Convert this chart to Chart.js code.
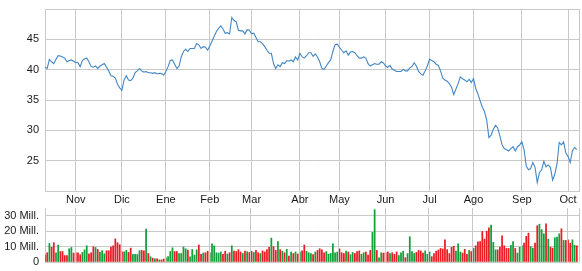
<!DOCTYPE html>
<html>
<head>
<meta charset="utf-8">
<script src="https://cdn.jsdelivr.net/npm/chart.js@4.4.1/dist/chart.umd.min.js"></script>
<style>
	html, body { margin: 0; padding: 0; background: #fff; }
	#wrap { position: relative; width: 582px; height: 271px; }
	canvas { position: absolute; left: 0; }
	#price { top: 0; }
	#volume { top: 205px; }
</style>
</head>
<body>
<div id="wrap">
	<canvas id="price" width="582" height="205"></canvas>
	<canvas id="volume" width="582" height="66"></canvas>
</div>
<script>
// month start positions (trading day index) and their labels
const monthStarts = [14, 35, 55, 75, 94, 116, 134, 155, 175, 195, 217, 238];
const monthLabels = ['Nov', 'Dic', 'Ene', 'Feb', 'Mar', 'Abr', 'May', 'Jun', 'Jul', 'Ago', 'Sep', 'Oct'];

// daily close
const prices = [
	40.4, 40.2, 41.7, 41.3, 41.0, 41.7, 42.3, 42.25, 42.1, 41.9, 41.3, 41.5, 41.6, 41.4, 41.2,
	41.15, 40.5, 41.5, 41.8, 41.9, 41.3, 40.5, 40.4, 40.6, 40.2, 40.6, 40.8, 41.0, 40.4, 39.8, 39.0, 38.9, 38.6, 37.6, 37.0,
	36.6, 38.3, 39.0, 38.3, 38.2, 38.6, 39.5, 39.8, 40.2, 39.8, 39.6, 39.7, 39.5, 39.5, 39.4, 39.5, 39.3, 39.4, 39.35, 39.1,
	39.7, 40.5, 41.5, 41.6, 40.9, 40.2, 40.6, 42.1, 43.0, 43.35, 43.0, 43.5, 43.5, 43.5, 44.3, 44.1, 43.5, 43.8, 43.7, 43.2,
	43.9, 44.7, 45.5, 46.3, 46.8, 47.2, 46.7, 46.0, 46.1, 45.9, 48.6, 48.1, 47.9, 46.5, 46.4, 46.4, 45.9, 46.6, 46.5,
	45.9, 46.0, 45.3, 44.6, 44.6, 44.3, 43.8, 43.2, 42.7, 42.7, 41.0, 40.2, 40.8, 40.5, 41.15, 41.0, 41.5, 41.4, 41.6, 41.3, 42.1, 41.6,
	42.7, 42.1, 41.9, 42.3, 42.8, 42.8, 42.2, 42.6, 42.1, 41.3, 40.2, 40.05, 40.6, 41.15, 41.6, 43.0, 44.1, 44.2,
	43.7, 43.2, 42.8, 43.1, 42.4, 42.9, 43.0, 42.8, 42.3, 41.9, 41.9, 42.1, 41.9, 41.0, 40.6, 40.8, 41.0, 40.9, 40.9, 41.3, 41.1,
	40.6, 40.4, 40.7, 40.1, 39.9, 39.7, 39.7, 39.7, 40.05, 39.8, 39.8, 40.3, 40.5, 41.15, 40.6, 39.7, 39.3, 39.1, 39.8, 40.6,
	41.7, 41.5, 41.3, 40.9, 40.7, 39.8, 38.6, 38.3, 38.1, 37.7, 37.1, 35.9, 36.8, 37.7, 38.8, 38.5, 38.3, 38.0, 38.4, 37.9,
	38.5, 36.9, 36.0, 34.9, 33.8, 33.1, 31.7, 28.8, 29.2, 30.2, 30.8, 30.4, 29.1, 27.6, 27.0, 26.8, 26.6, 27.0, 27.3, 26.6, 27.3, 27.6,
	28.1, 26.8, 24.1, 23.5, 23.7, 24.7, 23.9, 21.4, 23.0, 23.5, 24.9, 24.0, 24.3, 23.9, 21.8, 22.8, 24.5, 28.0, 27.6, 28.1, 26.3,
	25.7, 24.7, 26.6, 27.2, 26.8
];

// daily volume, millions
const volumes = [
	4.5, 6, 12, 9.5, 12.5, 6, 11, 6.8, 6.8, 4.2, 4.2, 8.6, 9.4, 5.8, 6,
	6, 4.7, 6.2, 7.9, 10.5, 5.3, 6, 9.9, 9.4, 8.1, 6.2, 7.3, 5.3, 7.3, 7.3, 9.7, 10.5, 15, 12.5, 11.2,
	6.6, 6.6, 7.5, 6.2, 9, 4.9, 4.9, 4.9, 7.3, 7.5, 7.3, 21.3, 5.5, 3.4, 2.5, 2.1, 2.1, 1.4, 1.4, 1.9,
	2.7, 3.5, 6.8, 9.2, 6.8, 6.8, 5.5, 5.5, 9.7, 8.6, 7.7, 3.4, 8.1, 4.5, 7.9, 11, 4.9, 5.8, 6, 7,
	6, 11.8, 10.5, 6, 5.8, 6.5, 5, 7, 5.2, 6, 10.5, 7, 6.8, 8, 6.5, 5.5, 7, 6.6, 6.2,
	7, 6.2, 7.5, 6, 5.4, 7.2, 6.5, 8, 9.5, 15.5, 10, 7.5, 13.3, 8, 7, 6, 8.2, 3.8, 6.5, 5.5, 6.5, 5.2,
	6.5, 7.2, 11, 7, 6, 5.5, 4.8, 6.5, 7.5, 8.6, 7.9, 6, 6.8, 5, 5.6, 11.8, 6, 6.5,
	8.5, 6, 5.5, 7, 6.5, 4.8, 6.2, 5.5, 6.8, 7.2, 5, 6, 6.5, 4.5, 7.5, 19.2, 33.9, 7.5, 2.7, 6, 5.8,
	6, 6.5, 5.5, 6, 5, 6.5, 4.2, 6, 7, 2.8, 5.5, 16.4, 6.8, 5.5, 6.2, 7.5, 7.2, 5.8, 7.2, 5,
	6.5, 3.5, 5.5, 7, 7.8, 8.8, 8.4, 14.4, 8, 5.5, 9.5, 10.2, 7, 11.8, 6.5, 5.8, 8.2, 5, 7.5, 6.8,
	8.8, 10.5, 13, 13.3, 19.8, 14.8, 20, 22.2, 24, 12.7, 7.9, 7.9, 9.6, 17, 10.5, 8.8, 8.8, 10.7, 13.3, 8.8, 5.8, 9.6,
	10.5, 12.3, 16.6, 18.7, 10, 9, 12.2, 23.5, 24.5, 21, 18.3, 24.8, 14.8, 9.6, 9, 15.7, 16.1, 18.3, 21.5, 14, 14,
	14.4, 12.2, 14.4, 10.9, 10.5
];

const gridColor = '#c9c9c9';
const upColor = '#11a03a';
const downColor = '#ec1c24';

Chart.defaults.font.family = 'Arial, "Liberation Sans", sans-serif';
Chart.defaults.font.size = 11;
Chart.defaults.color = '#1a1a1a';
Chart.defaults.animation = false;

// frame sides, plus month lines for the volume panel
const framePlugin = {
	id: 'frame',
	afterDraw(chart, args, opts) {
		const a = chart.chartArea;
		const c = chart.ctx;
		c.save();
		c.strokeStyle = gridColor;
		c.lineWidth = 1;
		c.beginPath();
		if (opts.months) {
			monthStarts.forEach(v => {
				const px = Math.round(chart.scales.x.getPixelForValue(v - 0.5)) + 0.5;
				c.moveTo(px, a.top);
				c.lineTo(px, a.bottom);
			});
		}
		(opts.sides || []).forEach(s => {
			if (s === 'right') { c.moveTo(a.right + 0.5, a.top); c.lineTo(a.right + 0.5, a.bottom); }
			if (s === 'top') { c.moveTo(a.left, a.top + 0.5); c.lineTo(a.right, a.top + 0.5); }
		});
		c.stroke();
		c.restore();
	}
};

function monthAxis(showLabels) {
	return {
		type: 'linear',
		min: 0,
		max: prices.length,
		offset: false,
		afterBuildTicks: scale => { scale.ticks = monthStarts.map(v => ({ value: v })); },
		afterFit: scale => {
			scale.height = showLabels ? 14 : 0;
			scale.paddingLeft = 0;
			scale.paddingRight = 0;
		},
		grid: { display: showLabels, color: gridColor, drawTicks: false, offset: false },
		border: { display: showLabels, color: gridColor },
		ticks: {
			padding: 2,
			maxRotation: 0,
			autoSkip: false,
			color: showLabels ? '#1a1a1a' : 'rgba(0,0,0,0)',
			callback: v => monthLabels[monthStarts.indexOf(v)]
		}
	};
}

function fixY(scale) {
	scale.width = 45;
	scale.paddingTop = 0;
	scale.paddingBottom = 0;
}

const days = prices.map((p, i) => i);

new Chart(document.getElementById('price'), {
	type: 'line',
	data: {
		datasets: [{
			data: days.map(i => ({ x: i, y: prices[i] })),
			borderColor: '#4387c4',
			borderWidth: 1.1,
			pointRadius: 0,
			tension: 0
		}]
	},
	options: {
		responsive: false,
		layout: { padding: { top: 9, right: 3, left: 0, bottom: 0 } },
		plugins: { legend: { display: false }, tooltip: { enabled: false }, frame: { sides: ['right', 'top'] } },
		scales: {
			x: monthAxis(true),
			y: {
				min: 20,
				max: 50,
				afterFit: fixY,
				grid: { color: gridColor, drawTicks: false },
				border: { color: gridColor },
				ticks: {
					stepSize: 5,
					padding: 6,
					callback: v => (v === 20 || v === 50) ? '' : v
				}
			}
		}
	},
	plugins: [framePlugin]
});

new Chart(document.getElementById('volume'), {
	type: 'bar',
	data: {
		datasets: [{
			data: days.map(i => ({ x: i, y: volumes[i] })),
			backgroundColor: days.map(i => (i === 0 || prices[i] >= prices[i - 1]) ? upColor : downColor),
			barThickness: 1.1
		}]
	},
	options: {
		responsive: false,
		layout: { padding: { top: 3, right: 3, left: 0, bottom: 9 } },
		plugins: { legend: { display: false }, tooltip: { enabled: false }, frame: { sides: ['right'], months: true } },
		scales: {
			x: monthAxis(false),
			y: {
				min: 0,
				max: 35,
				afterFit: fixY,
				grid: { color: gridColor, drawTicks: false },
				border: { color: gridColor },
				ticks: {
					stepSize: 5,
					padding: 6,
					callback: v => v % 10 !== 0 ? '' : (v === 0 ? '0' : v + ' Mill.')
				}
			}
		}
	},
	plugins: [framePlugin]
});
</script>
</body>
</html>
